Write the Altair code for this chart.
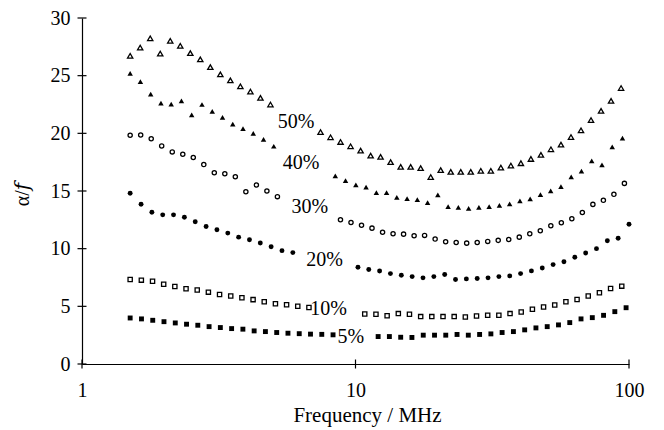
import altair as alt
import pandas as pd

# ---------------- data ----------------
# 50 % (open triangles)
f50 = [1.50, 1.632, 1.776, 1.932, 2.102, 2.287, 2.489, 2.707, 2.946, 3.205, 3.487, 3.794, 4.128, 4.492, 4.887,
       7.450, 8.105, 8.818, 9.594, 10.44, 11.36, 12.35, 13.44, 14.63, 15.91, 17.31, 18.84, 20.49, 22.30, 24.26,
       26.39, 28.72, 31.25, 34.00, 36.99, 40.25, 43.79, 47.64, 51.83, 56.40, 61.36, 66.76, 72.63, 79.03, 85.98, 93.55]
v50 = [26.72, 27.44, 28.24, 26.92, 28.02, 27.59, 26.95, 26.41, 25.74, 25.11, 24.59, 24.08, 23.62, 23.07, 22.50,
       20.11, 19.66, 19.25, 18.88, 18.50, 18.07, 17.96, 17.50, 17.09, 17.09, 16.98, 16.21, 16.81, 16.66, 16.66,
       16.66, 16.75, 16.75, 17.03, 17.21, 17.41, 17.78, 18.13, 18.62, 19.02, 19.68, 20.26, 21.15, 21.95, 22.81, 23.93]

# 40 % (filled triangles)
f40 = [1.50, 1.635, 1.783, 1.944, 2.119, 2.310, 2.518, 2.746, 2.994, 3.264, 3.558, 3.879, 4.229, 4.610, 5.025,
       8.436, 9.196, 10.03, 10.93, 11.92, 12.99, 14.16, 15.44, 16.83, 18.35, 20.00, 21.81, 23.77, 25.92, 28.26,
       30.81, 33.59, 36.61, 39.92, 43.52, 47.45, 51.72, 56.39, 61.47, 67.02, 73.06, 79.65, 86.83, 94.65]
v40 = [25.20, 24.48, 23.39, 22.61, 22.53, 22.81, 21.60, 22.50, 21.90, 21.38, 20.80, 20.40, 20.00, 19.48, 18.88,
       16.32, 15.89, 15.54, 15.34, 14.86, 14.85, 14.45, 14.34, 14.25, 13.99, 14.66, 13.65, 13.59, 13.50, 13.59,
       13.65, 13.76, 13.88, 14.14, 14.31, 14.68, 15.01, 15.37, 16.23, 16.72, 17.61, 17.27, 18.82, 19.59]

# 30 % (open circles)
f30 = [1.50, 1.639, 1.791, 1.956, 2.138, 2.336, 2.552, 2.788, 3.046, 3.328, 3.636, 3.973, 4.341, 4.743, 5.182,
       8.812, 9.628, 10.52, 11.49, 12.56, 13.72, 14.99, 16.38, 17.89, 19.55, 21.36, 23.34, 25.50, 27.86, 30.44,
       33.25, 36.33, 39.70, 43.37, 47.39, 51.78, 56.57, 61.80, 67.52, 73.78, 80.60, 88.06, 96.21]
v30 = [19.83, 19.85, 19.53, 18.91, 18.39, 18.19, 17.90, 17.29, 16.58, 16.49, 16.23, 14.94, 15.52, 15.00, 14.51,
       12.50, 12.27, 12.03, 11.78, 11.43, 11.29, 11.26, 11.12, 11.15, 10.83, 10.60, 10.54, 10.48, 10.54, 10.63,
       10.72, 10.80, 11.00, 11.29, 11.55, 11.98, 12.24, 12.59, 13.13, 13.84, 14.19, 14.71, 15.66]

# 20 % (filled circles)
f20 = [1.50, 1.644, 1.801, 1.973, 2.161, 2.368, 2.594, 2.843, 3.114, 3.412, 3.738, 4.095, 4.486, 4.915, 5.385, 5.900,
       10.21, 11.18, 12.25, 13.42, 14.71, 16.11, 17.65, 19.34, 21.19, 23.21, 25.43, 27.86, 30.52, 33.44, 36.64,
       40.14, 43.98, 48.18, 52.79, 57.83, 63.36, 69.42, 76.05, 83.32, 91.28, 100.0]
v20 = [14.80, 13.85, 13.16, 12.93, 12.93, 12.73, 12.33, 11.92, 11.64, 11.35, 11.00, 10.77, 10.49, 10.17, 9.83, 9.66,
       8.39, 8.20, 8.06, 7.84, 7.70, 7.58, 7.47, 7.58, 7.76, 7.33, 7.38, 7.41, 7.47, 7.58, 7.64,
       7.84, 8.07, 8.32, 8.62, 8.87, 9.25, 9.62, 10.00, 10.69, 10.90, 12.12]

# 10 % (open squares)
f10 = [1.50, 1.648, 1.811, 1.989, 2.185, 2.401, 2.638, 2.898, 3.184, 3.498, 3.843, 4.222, 4.638, 5.096, 5.598, 6.150, 6.757,
       10.81, 11.88, 13.05, 14.34, 15.75, 17.31, 19.01, 20.89, 22.95, 25.21, 27.70, 30.43, 33.43, 36.73, 40.35,
       44.34, 48.71, 53.51, 58.79, 64.58, 70.95, 77.95, 85.64, 94.08]
v10 = [7.32, 7.27, 7.18, 6.92, 6.72, 6.52, 6.41, 6.23, 6.03, 5.89, 5.75, 5.58, 5.40, 5.23, 5.14, 5.00, 4.90,
       4.34, 4.31, 4.19, 4.37, 4.31, 4.11, 4.11, 4.11, 4.11, 4.08, 4.16, 4.22, 4.22, 4.37, 4.51,
       4.74, 4.94, 5.11, 5.40, 5.60, 5.89, 6.18, 6.55, 6.75]

# 5 % (filled squares)
f05 = [1.50, 1.650, 1.814, 1.994, 2.193, 2.411, 2.651, 2.915, 3.205, 3.524, 3.875, 4.260, 4.684, 5.151, 5.663,
       6.227, 6.846, 7.528, 8.277,
       12.10, 13.30, 14.63, 16.08, 17.69, 19.45, 21.38, 23.51, 25.85, 28.43, 31.26, 34.36, 37.79, 41.55, 45.68,
       50.23, 55.23, 60.73, 66.77, 73.42, 80.72, 88.75, 97.58]
v05 = [3.99, 3.91, 3.79, 3.67, 3.56, 3.45, 3.36, 3.24, 3.16, 3.07, 3.02, 2.87, 2.81, 2.73, 2.67,
       2.63, 2.59, 2.57, 2.53,
       2.38, 2.38, 2.32, 2.30, 2.50, 2.50, 2.50, 2.56, 2.50, 2.56, 2.61, 2.73, 2.81, 2.96, 3.13,
       3.24, 3.39, 3.59, 3.91, 4.02, 4.22, 4.54, 4.88]

# in-plot labels: text, centre frequency, baseline value
label_text = ["50%", "40%", "30%", "20%", "10%", "5%"]
label_freq = [6.07, 6.33, 6.81, 7.70, 7.98, 9.62]
label_val = [20.46, 16.95, 13.07, 8.47, 4.22, 1.78]

x_ticks = [1, 10, 100]
y_ticks = [0, 5, 10, 15, 20, 25, 30]

# ---------------- build tables ----------------
series = [
    ("50%", f50, v50, "triangle-up", False, 28),
    ("40%", f40, v40, "triangle-up", True, 30),
    ("30%", f30, v30, "circle", False, 18),
    ("20%", f20, v20, "circle", True, 24),
    ("10%", f10, v10, "square", False, 18),
    ("5%", f05, v05, "square", True, 24),
]
rows = []
for name, fr, vals, *_ in series:
    for f, v in zip(fr, vals):
        rows.append({"series": name, "freq": f, "val": v})
df = pd.DataFrame(rows)

labels = pd.DataFrame({"label": label_text, "freq": label_freq, "val": label_val})
xt = pd.DataFrame({"freq": x_ticks})
yt = pd.DataFrame({"val": y_ticks})

W, H = 547, 346
FONT = "'Liberation Serif', 'Times New Roman', 'DejaVu Serif', serif"

xscale = alt.Scale(type="log", domain=[1, 100])
yscale = alt.Scale(domain=[0, 30])

xaxis = alt.Axis(values=x_ticks, format="d", title="Frequency / MHz", grid=False, ticks=False, tickSize=0,
                 labelFlush=False, domainColor="black", domainWidth=1.2, labelFont=FONT, labelFontSize=20,
                 labelColor="black", labelPadding=16, titleFont=FONT, titleFontSize=21,
                 titleFontWeight="normal", titleColor="black", titlePadding=4, titleX=285)
yaxis = alt.Axis(values=y_ticks, title="α/𝑓", grid=False, ticks=False, tickSize=0, labelFlush=False,
                 domainColor="black", domainWidth=1.2, labelFont=FONT, labelFontSize=20, labelColor="black",
                 labelPadding=12, titleFont=FONT, titleFontSize=20, titleFontWeight="normal",
                 titleColor="black", titlePadding=18, titleY=176)

base = alt.Chart(df)
layers = []
first = True
for name, fr, vals, shape, filled, size in series:
    if filled:
        mk = base.mark_point(shape=shape, filled=True, color="black", size=size, opacity=1)
    else:
        mk = base.mark_point(shape=shape, filled=False, color="black", size=size, strokeWidth=1.3, opacity=1)
    if first:
        xenc = alt.X("freq:Q", scale=xscale, axis=xaxis)
        yenc = alt.Y("val:Q", scale=yscale, axis=yaxis)
    else:
        xenc = alt.X("freq:Q", scale=xscale)
        yenc = alt.Y("val:Q", scale=yscale)
    first = False
    layers.append(mk.encode(x=xenc, y=yenc).transform_filter(alt.datum.series == name))

text = alt.Chart(labels).mark_text(font=FONT, fontSize=20, align="center", baseline="alphabetic",
                                   color="black").encode(
    x=alt.X("freq:Q", scale=xscale),
    y=alt.Y("val:Q", scale=yscale),
    text="label:N",
)

ytick_layer = alt.Chart(yt).mark_tick(orient="horizontal", color="black", size=9, thickness=1.2,
                                      opacity=1).encode(
    y=alt.Y("val:Q", scale=yscale),
    x=alt.value(0),
)
xtick_layer = alt.Chart(xt).mark_tick(orient="vertical", color="black", size=9, thickness=1.2,
                                      opacity=1).encode(
    x=alt.X("freq:Q", scale=xscale),
    y=alt.value(H),
)

chart = alt.layer(*layers, text, ytick_layer, xtick_layer).properties(
    width=W, height=H,
    autosize=alt.AutoSizeParams(type="none"),
    padding={"left": 74, "top": 10, "right": 20, "bottom": 66},
    background="white",
).configure_view(stroke=None)

chart.save("out.html", embed_options={"renderer": "svg", "actions": False})
